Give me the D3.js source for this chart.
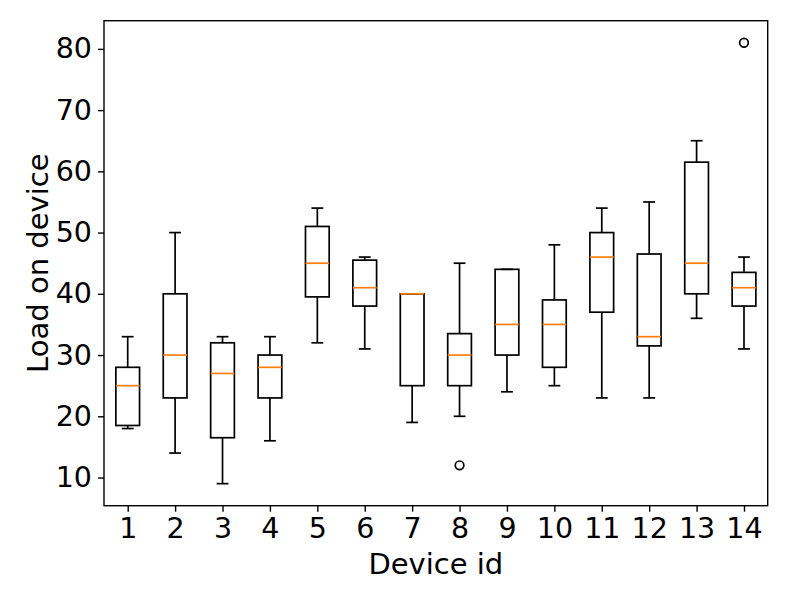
<!DOCTYPE html>
<html>
<head>
<meta charset="utf-8" />
<title>Load on device</title>
<script src="https://d3js.org/d3.v7.min.js"></script>
<style>
body { margin: 0; background: white; }
svg { display: block; }
text { font-family: 'DejaVu Sans', sans-serif; fill: black; }
.label { font-size: 29px; }
</style>
</head>
<body>
<div id="chart"></div>
<script>
// values
var devices     = [1, 2, 3, 4, 5, 6, 7, 8, 9, 10, 11, 12, 13, 14];
var whiskerLow  = [18, 14, 9, 16, 32, 31, 19, 20, 24, 25, 23, 23, 36, 31];
var q1          = [18.5, 23, 16.5, 23, 39.5, 38, 25, 25, 30, 28, 37, 31.5, 40, 38];
var median      = [25, 30, 27, 28, 45, 41, 40, 30, 35, 35, 46, 33, 45, 41];
var q3          = [28, 40, 32, 30, 51, 45.5, 40, 33.5, 44, 39, 50, 46.5, 61.5, 43.5];
var whiskerHigh = [33, 50, 33, 33, 54, 46, 40, 45, 44, 48, 54, 55, 65, 46];
var outliers    = [[], [], [], [], [], [], [], [12], [], [], [], [], [], [81]];
var yTicks      = [10, 20, 30, 40, 50, 60, 70, 80];

var width = 789, height = 601;
var margin = {left: 104, right: 21.3, top: 20.7, bottom: 95.3};

var boxes = devices.map(function(d, i) {
    return {id: d, lo: whiskerLow[i], q1: q1[i], med: median[i], q3: q3[i],
            hi: whiskerHigh[i], fliers: outliers[i]};
});

var svg = d3.select("#chart").append("svg")
    .attr("width", width)
    .attr("height", height);

var x = d3.scaleLinear().domain([0.5, 14.5])
    .range([margin.left, width - margin.right]);
var y = d3.scaleLinear().domain([5.4, 84.6])
    .range([height - margin.bottom, margin.top]);

var boxW = x(1.25) - x(1);   // half width of box (0.5 wide)
var capW = boxW / 2;

var g = svg.append("g");

var box = g.selectAll("g.box")
    .data(boxes)
    .enter().append("g")
    .attr("class", "box");

// whiskers
box.append("line")
    .attr("x1", function(d) { return x(d.id); })
    .attr("x2", function(d) { return x(d.id); })
    .attr("y1", function(d) { return y(d.lo); })
    .attr("y2", function(d) { return y(d.q1); })
    .attr("stroke", "black").attr("stroke-width", 1.7);
box.append("line")
    .attr("x1", function(d) { return x(d.id); })
    .attr("x2", function(d) { return x(d.id); })
    .attr("y1", function(d) { return y(d.q3); })
    .attr("y2", function(d) { return y(d.hi); })
    .attr("stroke", "black").attr("stroke-width", 1.7);

// caps
["lo", "hi"].forEach(function(k) {
    box.append("line")
        .attr("x1", function(d) { return x(d.id) - capW; })
        .attr("x2", function(d) { return x(d.id) + capW; })
        .attr("y1", function(d) { return y(d[k]); })
        .attr("y2", function(d) { return y(d[k]); })
        .attr("stroke", "black").attr("stroke-width", 1.7);
});

// box
box.append("rect")
    .attr("x", function(d) { return x(d.id) - boxW; })
    .attr("y", function(d) { return y(d.q3); })
    .attr("width", 2 * boxW)
    .attr("height", function(d) { return y(d.q1) - y(d.q3); })
    .attr("fill", "none")
    .attr("stroke", "black").attr("stroke-width", 1.7);

// median
box.append("line")
    .attr("x1", function(d) { return x(d.id) - boxW; })
    .attr("x2", function(d) { return x(d.id) + boxW; })
    .attr("y1", function(d) { return y(d.med); })
    .attr("y2", function(d) { return y(d.med); })
    .attr("stroke", "#ff7f0e").attr("stroke-width", 1.7);

// outliers
box.selectAll("circle")
    .data(function(d) { return d.fliers.map(function(v) { return {id: d.id, v: v}; }); })
    .enter().append("circle")
    .attr("cx", function(d) { return x(d.id); })
    .attr("cy", function(d) { return y(d.v); })
    .attr("r", 4.3)
    .attr("fill", "none")
    .attr("stroke", "black").attr("stroke-width", 1.7);

// axes
var xAxis = svg.append("g")
    .attr("transform", "translate(0," + y.range()[0] + ")")
    .call(d3.axisBottom(x).tickValues(devices).tickFormat(d3.format("d"))
        .tickSizeOuter(0).tickSize(6).tickPadding(6));
var yAxis = svg.append("g")
    .attr("transform", "translate(" + margin.left + ",0)")
    .call(d3.axisLeft(y).tickValues(yTicks).tickSizeOuter(0).tickSize(6).tickPadding(6));

[xAxis, yAxis].forEach(function(a) {
    a.attr("font-family", "DejaVu Sans").attr("font-size", 28.5);
    a.select(".domain").remove();
    a.selectAll(".tick line").attr("stroke", "black").attr("stroke-width", 1.4);
    a.selectAll(".tick text").attr("fill", "black");
});

// frame
svg.append("rect")
    .attr("x", x.range()[0])
    .attr("y", y.range()[1])
    .attr("width", x.range()[1] - x.range()[0])
    .attr("height", y.range()[0] - y.range()[1])
    .attr("fill", "none")
    .attr("stroke", "black")
    .attr("stroke-width", 1.4);

svg.append("text")
    .attr("class", "label")
    .attr("x", (x.range()[0] + x.range()[1]) / 2)
    .attr("y", 573.5)
    .attr("text-anchor", "middle")
    .text("Device id");

svg.append("text")
    .attr("class", "label")
    .attr("transform", "translate(47.7," + (y.range()[0] + y.range()[1]) / 2 + ") rotate(-90)")
    .attr("text-anchor", "middle")
    .text("Load on device");
</script>
</body>
</html>
